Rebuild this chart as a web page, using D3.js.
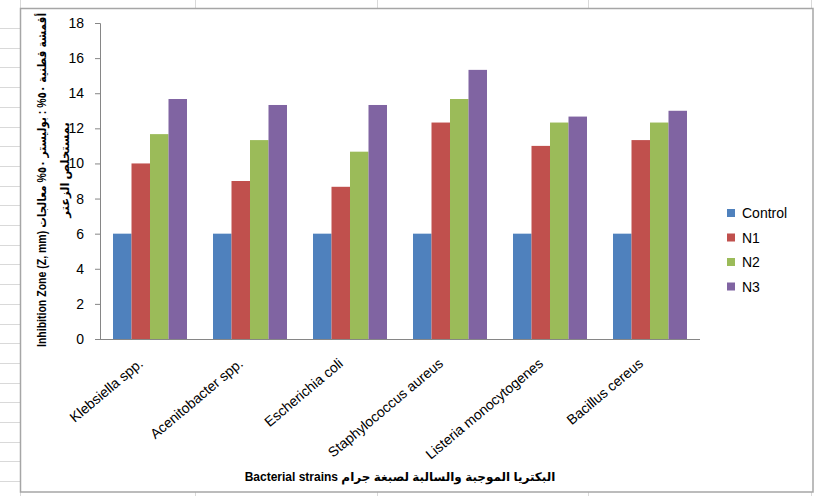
<!DOCTYPE html>
<html>
<head>
<meta charset="utf-8">
<script src="https://cdn.jsdelivr.net/npm/d3@7"></script>
<style>
  html, body { margin: 0; padding: 0; background: #ffffff; }
  svg { display: block; }
  text { font-family: "Liberation Sans", Arial, "DejaVu Sans", sans-serif; }
</style>
</head>
<body>
<svg id="chart" width="815" height="496"></svg>
<script>
// Inhibition zone (mm) per bacterial strain, for the control and three treatments
const categories = ["Klebsiella spp.", "Acenitobacter spp.", "Escherichia coli",
                    "Staphylococcus aureus", "Listeria monocytogenes", "Bacillus cereus"];
const seriesNames = ["Control", "N1", "N2", "N3"];
const controlValues = [6, 6, 6, 6, 6, 6];
const n1Values = [10, 9, 8.67, 12.33, 11, 11.33];
const n2Values = [11.67, 11.33, 10.67, 13.67, 12.33, 12.33];
const n3Values = [13.67, 13.33, 13.33, 15.33, 12.67, 13];
const yTicks = [0, 2, 4, 6, 8, 10, 12, 14, 16, 18];
const seriesColors = ["#4f81bd", "#c0504d", "#9bbb59", "#8064a2"];

const yTitleLine1 = "Inhibition Zone (Z, mm) أقمشة قطنية ٥٠% : بوليستر ٥٠% معالجات";
const yTitleLine2 = "بمستخلص الزعتر";
const xTitle = "Bacterial strains البكتريا الموجبة والسالبة لصبغة جرام";

const seriesValues = [controlValues, n1Values, n2Values, n3Values];

const svg = d3.select("#chart");

// sheet grid stubs around the chart object
const grid = svg.append("g").attr("stroke", "#d9d9d9").attr("stroke-width", 1);
d3.range(28, 496, 19.7).forEach(y => {
  grid.append("line").attr("x1", 0).attr("x2", 20).attr("y1", Math.round(y) + 0.5).attr("y2", Math.round(y) + 0.5);
});
[20, 195, 377, 588, 811].forEach(x => {
  grid.append("line").attr("x1", x + 0.5).attr("x2", x + 0.5).attr("y1", 0).attr("y2", 8);
  grid.append("line").attr("x1", x + 0.5).attr("x2", x + 0.5).attr("y1", 492).attr("y2", 496);
});

// chart frame
svg.append("rect")
  .attr("x", 20.5).attr("y", 8.5).attr("width", 792.5).attr("height", 483.5)
  .attr("fill", "#ffffff").attr("stroke", "#a6a6a6").attr("stroke-width", 1.5);

const plot = { left: 100, right: 700, top: 23, bottom: 339 };

const x0 = d3.scaleBand()
  .domain(categories)
  .range([plot.left, plot.right])
  .paddingInner(0.26)
  .paddingOuter(0.13);

const x1 = d3.scaleBand()
  .domain(seriesNames)
  .range([0, x0.bandwidth()]);

const y = d3.scaleLinear()
  .domain([0, 18])
  .range([plot.bottom, plot.top]);

// bars
const groups = svg.append("g").selectAll("g")
  .data(categories)
  .join("g")
  .attr("transform", d => `translate(${x0(d)},0)`);

groups.selectAll("rect")
  .data((d, i) => seriesNames.map((s, k) => ({ series: s, value: seriesValues[k][i], k })))
  .join("rect")
  .attr("x", d => x1(d.series))
  .attr("width", x1.bandwidth())
  .attr("y", d => y(d.value))
  .attr("height", d => y(0) - y(d.value))
  .attr("fill", d => seriesColors[d.k]);

// y axis
const yAxis = svg.append("g")
  .attr("transform", `translate(${plot.left},0)`)
  .call(d3.axisLeft(y).tickValues(yTicks).tickSize(5).tickPadding(11).tickFormat(d3.format("d")));
yAxis.select(".domain").attr("stroke", "#868686");
yAxis.selectAll(".tick line").attr("stroke", "#868686");
yAxis.selectAll(".tick text")
  .attr("font-size", 14).attr("fill", "#000")
  .attr("font-family", "'Liberation Sans', Arial, sans-serif");

// x axis
const xAxis = svg.append("g")
  .attr("transform", `translate(0,${plot.bottom})`)
  .call(d3.axisBottom(x0).tickSize(0).tickFormat(""));
xAxis.select(".domain").attr("stroke", "#868686").attr("d", `M${plot.left},0.5H${plot.right}`);

// rotated category labels
svg.append("g").selectAll("text")
  .data(categories)
  .join("text")
  .attr("transform", d => `translate(${x0(d) + x0.bandwidth() / 2 - 6},${plot.bottom + 26}) rotate(-40)`)
  .attr("text-anchor", "end")
  .attr("font-size", 14)
  .attr("fill", "#000")
  .text(d => d);

// y axis title (two lines)
const yTitle = svg.append("g").attr("transform", "translate(46,180) rotate(-90)");
yTitle.append("text")
  .attr("text-anchor", "middle")
  .attr("font-size", 12).attr("font-weight", "bold")
  .attr("textLength", 334).attr("lengthAdjust", "spacingAndGlyphs")
  .text(yTitleLine1);
yTitle.append("text")
  .attr("text-anchor", "middle")
  .attr("x", 10).attr("y", 23)
  .attr("font-size", 11.5).attr("font-weight", "bold")
  .text(yTitleLine2);

// x axis title
svg.append("text")
  .attr("x", 400).attr("y", 481)
  .attr("text-anchor", "middle")
  .attr("font-size", 12).attr("font-weight", "bold")
  .text(xTitle);

// legend
const legend = svg.append("g").selectAll("g")
  .data(seriesNames)
  .join("g")
  .attr("transform", (d, i) => `translate(727,${213 + i * 24.5})`);
legend.append("rect")
  .attr("x", 0).attr("y", -4).attr("width", 8).attr("height", 8)
  .attr("fill", (d, i) => seriesColors[i]);
legend.append("text")
  .attr("x", 15).attr("y", 5)
  .attr("font-size", 14).attr("fill", "#000")
  .text(d => d);
</script>
</body>
</html>
